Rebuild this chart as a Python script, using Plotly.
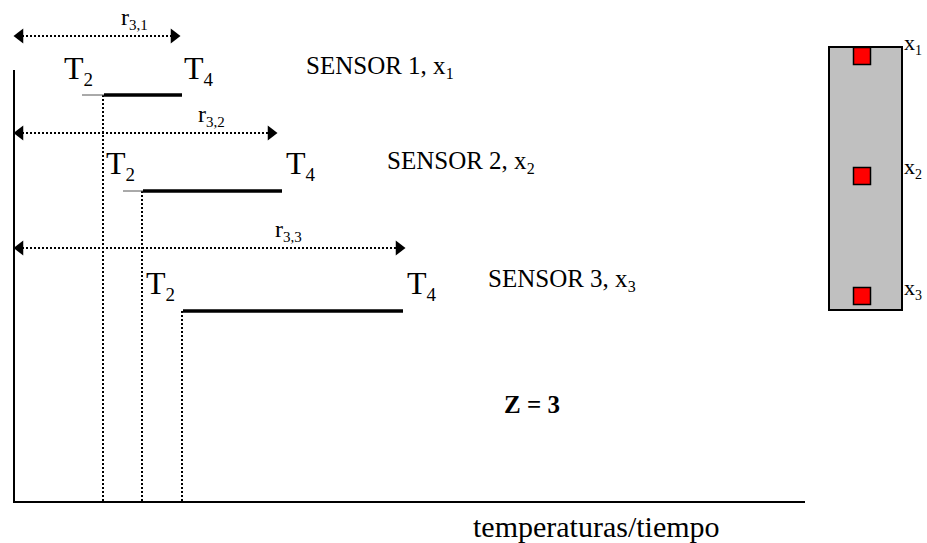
import plotly.graph_objects as go

# ---- diagram data (values in the diagram's own coordinate frame) ----
sensor_names = ["SENSOR 1, x", "SENSOR 2, x", "SENSOR 3, x"]
sensor_subs = ["1", "2", "3"]
r_subs = ["3,1", "3,2", "3,3"]
t2_time = [104, 143, 183]          # start of the T2–T4 plateau
t4_time = [182, 282, 403]          # end of the plateau (T4)
pre_start = [82, 123, None]        # thin lead-in line start
level = [95, 191, 311]             # vertical position of each sensor's plateau
r_end = [180, 277, 405]            # end of r_{3,i} arrow
r_level = [36, 133, 248]           # vertical position of r arrows
sensor_label_x = [304, 385, 486]
sensor_label_y = [67, 162, 280]
t2_label_x = [62, 104, 144]
t4_label_x = [182, 284, 405]
t_label_y = [70, 165, 285]
r_label_x = [119, 196, 273]
r_label_y = [18, 115, 230]

axis_origin = (14, 502)
axis_top = 70
axis_right = 805

bar_x = [829, 902]
bar_y = [47, 310]
probe_y = [56, 176, 296]
probe_x = 862
probe_label_y = [44, 168, 289]
probe_subs = ["1", "2", "3"]

FONT = "Liberation Serif"
fig = go.Figure()

# axes
fig.add_trace(go.Scatter(x=[axis_origin[0], axis_origin[0], axis_right],
                         y=[axis_top, axis_origin[1], axis_origin[1]],
                         mode="lines", line=dict(color="black", width=2),
                         hoverinfo="skip"))

def sub(base, s, size):
    return f"{base}<sub><span style='font-size:{size}px'>{s}</span></sub>"

for i in range(3):
    # dotted vertical drop
    fig.add_trace(go.Scatter(x=[t2_time[i] - 1, t2_time[i] - 1], y=[level[i], axis_origin[1]],
                             mode="lines", line=dict(color="black", width=2, dash="2px,2px"),
                             hoverinfo="skip"))
    # thin lead-in
    if pre_start[i] is not None:
        fig.add_trace(go.Scatter(x=[pre_start[i], t2_time[i]], y=[level[i], level[i]],
                                 mode="lines", line=dict(color="#555555", width=1),
                                 hoverinfo="skip"))
    # thick plateau
    fig.add_trace(go.Scatter(x=[t2_time[i], t4_time[i]], y=[level[i], level[i]],
                             mode="lines", line=dict(color="black", width=3.5),
                             hoverinfo="skip"))
    # r arrow (dotted line + heads)
    fig.add_trace(go.Scatter(x=[axis_origin[0] + 4, r_end[i] - 4], y=[r_level[i], r_level[i]],
                             mode="lines", line=dict(color="black", width=2, dash="2px,2px"),
                             hoverinfo="skip"))
    fig.add_trace(go.Scatter(x=[axis_origin[0] + 6, r_end[i] - 6], y=[r_level[i], r_level[i]],
                             mode="markers",
                             marker=dict(symbol=["triangle-left", "triangle-right"], size=13,
                                         color="black"),
                             hoverinfo="skip"))
    # labels
    fig.add_annotation(x=t2_label_x[i], y=t_label_y[i], text=sub("T", "2", 19), showarrow=False,
                       xanchor="left", yanchor="middle", font=dict(family=FONT, size=32, color="black"))
    fig.add_annotation(x=t4_label_x[i], y=t_label_y[i], text=sub("T", "4", 19), showarrow=False,
                       xanchor="left", yanchor="middle", font=dict(family=FONT, size=32, color="black"))
    fig.add_annotation(x=r_label_x[i], y=r_label_y[i], text=sub("r", r_subs[i], 15), showarrow=False,
                       xanchor="left", yanchor="middle", font=dict(family=FONT, size=24, color="black"))
    fig.add_annotation(x=sensor_label_x[i], y=sensor_label_y[i],
                       text=sub(sensor_names[i], sensor_subs[i], 16),
                       showarrow=False, xanchor="left", yanchor="middle",
                       font=dict(family=FONT, size=25, color="black"))

# Z label
fig.add_annotation(x=502, y=404, text="<b>Z = 3</b>", showarrow=False, xanchor="left",
                   yanchor="middle", font=dict(family=FONT, size=25, color="black"))
# axis title
fig.add_annotation(x=596, y=526, text="temperaturas/tiempo", showarrow=False, xanchor="center",
                   yanchor="middle", font=dict(family=FONT, size=30, color="black"))

# probe bar
fig.add_shape(type="rect", x0=bar_x[0], x1=bar_x[1], y0=bar_y[0], y1=bar_y[1],
              xref="x", yref="y", fillcolor="#c0c0c0", line=dict(color="black", width=2), layer="below")
fig.add_trace(go.Scatter(x=[probe_x] * 3, y=probe_y, mode="markers",
                         marker=dict(symbol="square", size=17, color="#ff0000",
                                     line=dict(color="black", width=1.5)),
                         hoverinfo="skip"))
for yy, s in zip(probe_label_y, probe_subs):
    fig.add_annotation(x=902, y=yy, text=sub("x", s, 14), showarrow=False, xanchor="left", yanchor="middle",
                       font=dict(family=FONT, size=22, color="black"))

fig.update_layout(width=927, height=543, margin=dict(l=0, r=0, t=0, b=0),
                  showlegend=False, plot_bgcolor="white", paper_bgcolor="white",
                  font=dict(family=FONT),
                  xaxis=dict(range=[0, 927], visible=False, fixedrange=True),
                  yaxis=dict(range=[543, 0], visible=False, fixedrange=True))

fig.write_html("out.html", config={"displayModeBar": False},
               post_script="document.body.style.margin='0';document.body.style.overflow='hidden';")
